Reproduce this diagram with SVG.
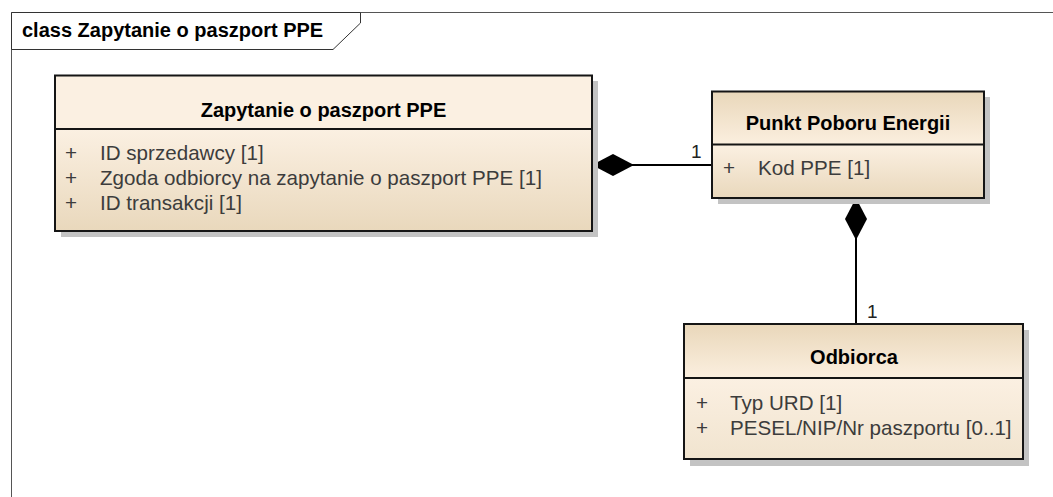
<svg xmlns="http://www.w3.org/2000/svg" width="1053" height="497" viewBox="0 0 1053 497">
<style>
.frame{fill:none;stroke:#555;stroke-width:1}
.tab{fill:#fff;stroke:#333;stroke-width:1}
.ftitle{font-family:"Liberation Sans",Arial,sans-serif;font-size:20px;font-weight:bold;fill:#000}
.shadow{fill:#c3c3c3}
.box{fill:none;stroke:#151515;stroke-width:2}
.div{stroke:#151515;stroke-width:2}
.name{font-family:"Liberation Sans",Arial,sans-serif;font-size:20px;font-weight:bold;fill:#000;text-anchor:middle}
.attr{font-family:"Liberation Sans",Arial,sans-serif;font-size:20.6px;fill:#3c3c3c}
.conn{fill:none;stroke:#000;stroke-width:2}
.mult{font-family:"Liberation Sans",Arial,sans-serif;font-size:19px;fill:#222}
</style>
<defs>
<linearGradient id="gDown" x1="0" y1="0" x2="0" y2="1">
<stop offset="0" stop-color="#fbf0e2"/><stop offset="1" stop-color="#e9d8bc"/>
</linearGradient>
<linearGradient id="gUp" x1="0" y1="0" x2="0" y2="1">
<stop offset="0" stop-color="#e9d7ba"/><stop offset="1" stop-color="#fbefdf"/>
</linearGradient>
<linearGradient id="gLight" x1="0" y1="0" x2="0" y2="1">
<stop offset="0" stop-color="#fbf0e2"/><stop offset="1" stop-color="#f1e4cf"/>
</linearGradient>
<marker id="diamond" viewBox="0 0 42 22" refX="0" refY="11" markerWidth="42" markerHeight="22" markerUnits="userSpaceOnUse" orient="auto">
<path d="M0,11 L21,0 L42,11 L21,22 Z" fill="#000"/>
</marker>
</defs>
<rect width="1053" height="497" fill="#fff"/>
<g id="frame">
<path class="frame" d="M11.5,497 V12.5 H1053"/>
<path class="tab" d="M11.5,12.5 H360.5 V23 L333,49.5 H11.5 Z"/>
<text class="ftitle" x="22" y="37">class Zapytanie o paszport PPE</text>
</g>
<g id="connectors">
<path class="conn" d="M592,165 H712" marker-start="url(#diamond)"/>
<text class="mult" x="691" y="158">1</text>
<path class="conn" d="M856,198 V324" marker-start="url(#diamond)"/>
<text class="mult" x="867" y="318">1</text>
</g>
<g id="zapytanie">
<rect class="shadow" x="61" y="81" width="537" height="156"/>
<rect x="55" y="75.5" width="537" height="53.5" fill="#fbf0e2"/>
<rect x="55" y="129" width="537" height="102" fill="url(#gDown)"/>
<rect class="box" x="55" y="75.5" width="537" height="155.5"/>
<line class="div" x1="55" y1="129" x2="592" y2="129"/>
<text class="name" x="323.5" y="117">Zapytanie o paszport PPE</text>
<text class="attr" x="65" y="160">+</text><text class="attr" x="100" y="160">ID sprzedawcy [1]</text>
<text class="attr" x="65" y="185">+</text><text class="attr" x="100" y="185">Zgoda odbiorcy na zapytanie o paszport PPE [1]</text>
<text class="attr" x="65" y="210">+</text><text class="attr" x="100" y="210">ID transakcji [1]</text>
</g>
<g id="punkt">
<rect class="shadow" x="718" y="97" width="272" height="107"/>
<rect x="712" y="91.5" width="272" height="53" fill="url(#gUp)"/>
<rect x="712" y="144.5" width="272" height="53.5" fill="url(#gDown)"/>
<rect class="box" x="712" y="91.5" width="272" height="106.5"/>
<line class="div" x1="712" y1="144.5" x2="984" y2="144.5"/>
<text class="name" x="848" y="130">Punkt Poboru Energii</text>
<text class="attr" x="723" y="175">+</text><text class="attr" x="758" y="175">Kod PPE [1]</text>
</g>
<g id="odbiorca">
<rect class="shadow" x="690" y="330" width="339" height="136"/>
<rect x="684" y="324" width="339" height="54" fill="url(#gUp)"/>
<rect x="684" y="378" width="339" height="81" fill="url(#gLight)"/>
<rect class="box" x="684" y="324" width="339" height="135"/>
<line class="div" x1="684" y1="378" x2="1023" y2="378"/>
<text class="name" x="854" y="364">Odbiorca</text>
<text class="attr" x="696" y="410">+</text><text class="attr" x="730" y="410">Typ URD [1]</text>
<text class="attr" x="696" y="435">+</text><text class="attr" x="730" y="435">PESEL/NIP/Nr paszportu [0..1]</text>
</g>
</svg>
